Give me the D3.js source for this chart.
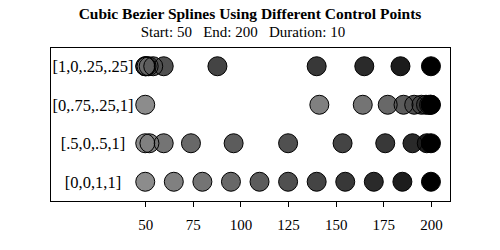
<!DOCTYPE html>
<html><head><meta charset="utf-8">
<script src="https://cdn.jsdelivr.net/npm/d3@7"></script>
<style>body{margin:0;background:#fff}svg{display:block}text{font-family:"Liberation Serif","Times New Roman",serif;fill:#000}</style>
</head><body><svg id="c" width="500" height="250"></svg>
<script>
const rowLabels = ["[1,0,.25,.25]", "[0,.75,.25,1]", "[.5,0,.5,1]", "[0,0,1,1]"];
const times = [0,1,2,3,4,5,6,7,8,9,10];
const row1 = [50, 50.1, 50.7, 51.8, 54.2, 59.7, 87.9, 140.0, 165.0, 184.0, 200];
const row2 = [50, 141.4, 164.2, 177.3, 185.6, 191.2, 195.0, 197.4, 199.0, 199.8, 200];
const row3 = [50, 52.2, 59.7, 74.0, 96.4, 125, 153.6, 176.0, 190.3, 197.8, 200];
const row4 = [50, 65, 80, 95, 110, 125, 140, 155, 170, 185, 200];
const greys = ["#8c8c8c","#808080","#747474","#686868","#5c5c5c","#505050","#444444","#383838","#2a2a2a","#1c1c1c","#000000"];
const xTicks = [50, 75, 100, 125, 150, 175, 200];
const series = [row1, row2, row3, row4];

const svg = d3.select("#c");
const L = 50, R = 450, T = 47, B = 201;
const x = d3.scaleLinear().domain([0, 210]).range([L, R]);
const y = d3.scaleBand().domain(rowLabels).range([T, B]);

svg.append("text").attr("x", 250).attr("y", 19).attr("text-anchor", "middle")
  .style("font-weight", "bold").style("font-size", "15.5px")
  .text("Cubic Bezier Splines Using Different Control Points");
svg.append("text").attr("x", 243).attr("y", 37).attr("text-anchor", "middle")
  .style("font-size", "15px").attr("xml:space", "preserve")
  .text("Start: 50   End: 200   Duration: 10");

svg.append("rect").attr("x", L + 0.5).attr("y", T + 0.5).attr("width", R - L).attr("height", B - T)
  .attr("fill", "none").attr("stroke", "#000").attr("shape-rendering", "crispEdges");

const ax = svg.append("g").attr("transform", `translate(0,${B + 0.5})`)
  .call(d3.axisBottom(x).tickValues(xTicks).tickSize(5).tickPadding(13));
ax.select(".domain").remove();
ax.selectAll("line").attr("shape-rendering", "crispEdges");
ax.selectAll("text").style("font-family", '"Liberation Serif",serif').style("font-size", "15px");

svg.selectAll(".rl").data(rowLabels).join("text").attr("class", "rl")
  .attr("x", 93).attr("y", d => y(d) + y.bandwidth() / 2 + 6)
  .attr("text-anchor", "middle").style("font-size", "16.5px").text(d => d);

const pts = [];
series.forEach((s, i) => s.forEach((v, j) => pts.push({row: rowLabels[i], v, t: times[j]})));
const g = svg.append("g");
g.selectAll("circle.f").data(pts).join("circle").attr("class", "f")
  .attr("cx", d => x(d.v)).attr("cy", d => y(d.row) + y.bandwidth() / 2).attr("r", 9.5)
  .attr("fill", d => greys[d.t]);
g.selectAll("circle.s").data(pts).join("circle").attr("class", "s")
  .attr("cx", d => x(d.v)).attr("cy", d => y(d.row) + y.bandwidth() / 2).attr("r", 9.5)
  .attr("fill", "none").attr("stroke", "#000").attr("stroke-width", 1);
</script></body></html>
